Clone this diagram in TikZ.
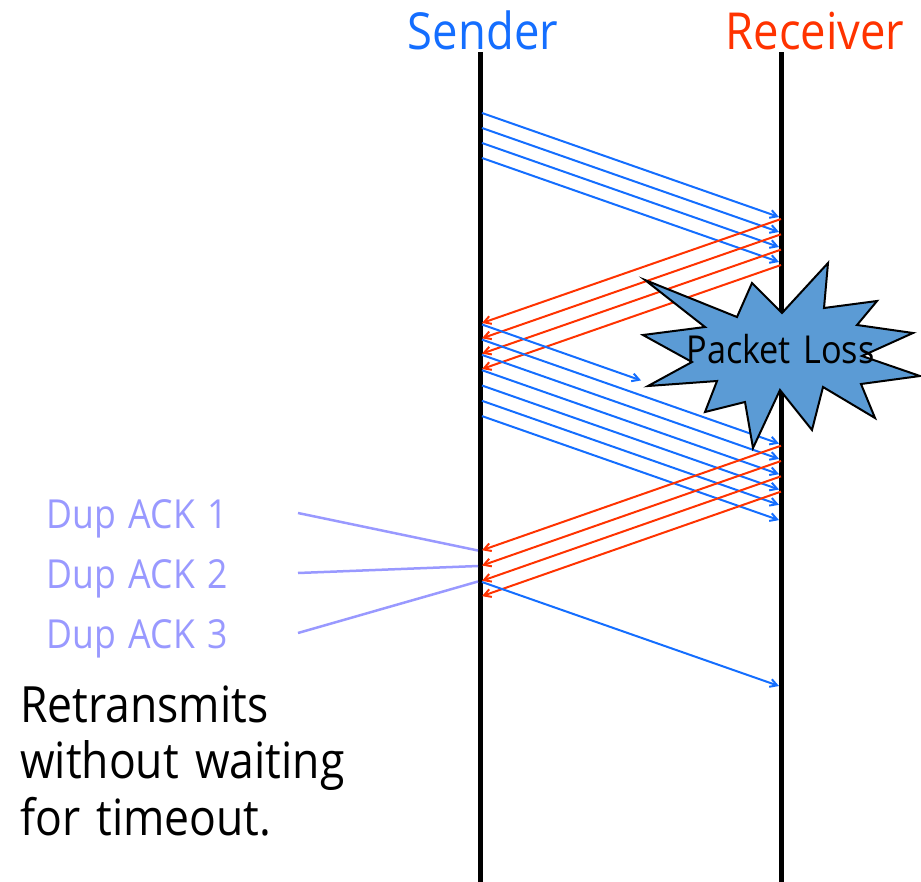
\documentclass[tikz,border=0pt]{standalone}
\usepackage{fontspec}
\setmainfont{Open Sans}[FakeStretch=0.89,WordSpace=1.4]
\usetikzlibrary{arrows.meta}
\definecolor{sblue}{RGB}{20,110,255}
\definecolor{rred}{RGB}{255,51,0}
\definecolor{dupc}{RGB}{153,153,255}
\definecolor{burst}{RGB}{91,155,213}
\begin{document}
\begin{tikzpicture}[x=1pt,y=-1pt,
  lifeline/.style={line width=5pt,black},
  pkt/.style={sblue,line width=2pt,-{Straight Barb[length=7pt,width=8pt]}},
  ack/.style={rred,line width=2pt,-{Straight Barb[length=7pt,width=8pt]}},
  dupline/.style={dupc,line width=2.5pt},
  head/.style={anchor=base,inner sep=0pt,font=\fontsize{51}{56}\selectfont},
  duplabel/.style={anchor=base west,inner sep=0pt,dupc,font=\fontsize{40}{44}\selectfont},
  note/.style={anchor=base west,inner sep=0pt,black,font=\fontsize{50}{55}\selectfont},
  burststyle/.style={fill=burst,draw=black,line width=2pt,line join=miter}
]
\useasboundingbox (0,0) rectangle (921,881);
% lifelines
\coordinate (sTop) at (480,52);
\coordinate (sBot) at (480,885);
\coordinate (rTop) at (781,52);
\coordinate (rBot) at (781,885);
\draw[lifeline] (sTop) -- (sBot);
\draw[lifeline] (rTop) -- (rBot);
% headers
\node[head,sblue] (sender) at (483,49) {Sender};
\node[head,rred] (receiver) at (815,49) {Receiver};
% first window of packets
\foreach \i/\y in {1/113,2/128,3/143,4/158}{
  \coordinate (pa\i) at (482,\y);
  \coordinate (qa\i) at (779,\y+104);
  \draw[pkt] (pa\i) -- (qa\i);
}
% first ACKs
\foreach \i/\y in {1/219,2/234.3,3/249.6,4/265}{
  \coordinate (aa\i) at (781,\y);
  \coordinate (ba\i) at (482,\y+104);
  \draw[ack] (aa\i) -- (ba\i);
}
% second window
\foreach \i/\y in {2/339.6,3/354.9,4/370.2,5/385.5,6/400.8,7/416.1}{
  \coordinate (pb\i) at (482,\y);
  \coordinate (qb\i) at (779,\y+104);
  \draw[pkt] (pb\i) -- (qb\i);
}
\coordinate (pb1) at (482,324.5);
\coordinate (lost) at (641,380.4);
\draw[pkt] (pb1) -- (lost);
% duplicate ACKs
\foreach \i/\y in {1/445.7,2/461,3/476.3,4/491.6}{
  \coordinate (ab\i) at (781,\y);
  \coordinate (bb\i) at (482,\y+104.5);
  \draw[ack] (ab\i) -- (bb\i);
}
% fast retransmit
\coordinate (pr) at (482,582);
\coordinate (qr) at (779,686);
\draw[pkt] (pr) -- (qr);
% packet loss burst
\draw[burststyle] (645,280) -- (737,317) -- (752,283) -- (782,313) -- (828,263)
  -- (824,308) -- (877,301) -- (857,325) -- (913,333) -- (862,356) -- (920,376)
  -- (861,384) -- (875,418) -- (823,387) -- (812,430) -- (780,390) -- (753,448)
  -- (745,402) -- (705,412) -- (717,381) -- (648,386) -- (692,362) -- (643,335)
  -- (705,327) -- cycle;
\node[anchor=base,inner sep=0pt,font=\fontsize{38.5}{42}\selectfont] (loss) at (780.5,363) {Packet Loss};
% dup ack labels
\node[duplabel] (d1) at (46,528) {Dup ACK 1};
\node[duplabel] (d2) at (46,588) {Dup ACK 2};
\node[duplabel] (d3) at (46,648) {Dup ACK 3};
\coordinate (e1) at (298,513);
\coordinate (e2) at (298,573);
\coordinate (e3) at (298,633);
\coordinate (f1) at (478,550.5);
\coordinate (f2) at (478,566);
\coordinate (f3) at (478,581.5);
\draw[dupline] (e1) -- (f1);
\draw[dupline] (e2) -- (f2);
\draw[dupline] (e3) -- (f3);
% note
\node[note] (n1) at (20,722) {Retransmits};
\node[note] (n2) at (20,778.5) {without waiting};
\node[note] (n3) at (20,835) {for timeout.};
\end{tikzpicture}
\end{document}
